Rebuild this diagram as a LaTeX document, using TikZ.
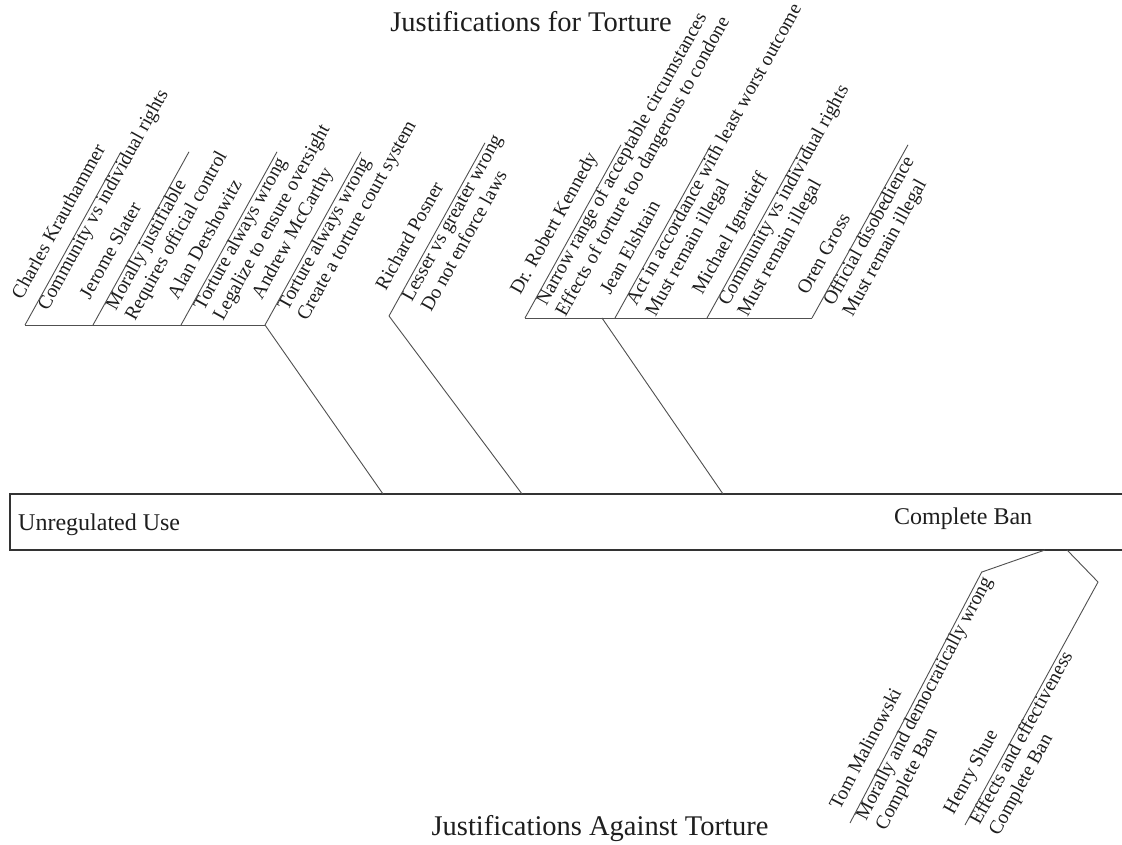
\documentclass[tikz,border=0pt]{standalone}
\usepackage{fontspec}
\setmainfont{Liberation Serif}
\definecolor{rulec}{HTML}{505050}
\definecolor{txt}{HTML}{1E1E1E}
\tikzset{
  rule/.style={draw=rulec, line width=0.9pt},
  boxline/.style={draw=black!80, line width=1.2pt},
  lbl/.style={anchor=mid west, inner sep=0pt, text=txt, font=\fontsize{19.5}{23}\selectfont},
  title/.style={anchor=base, inner sep=0pt, text=txt, font=\fontsize{28.5}{33}\selectfont},
  endlbl/.style={anchor=base west, inner sep=0pt, text=txt, font=\fontsize{24}{28}\selectfont}
}
% #1 coord name, #2 angle, #3 rule length, #4 text start, #5 name, #6 attr1, #7 attr2
\newcommand\fbranch[7]{%
  \begin{scope}[shift={(#1)}, rotate=#2, transform shape]
    \coordinate (#1-end) at (#3,0);
    \node[lbl] (#1-name) at (#4,17) {#5};
    \node[lbl] (#1-a) at (#4+3,-11) {#6};
    \if\relax\detokenize{#7}\relax\else
      \node[lbl] (#1-b) at (#4+3,-33) {#7};
    \fi
  \end{scope}
  \draw[rule] (#1) -- (#1-end);
}
\begin{document}
\begin{tikzpicture}[x=1pt,y=1pt]
\useasboundingbox (0,0) rectangle (1122,845);
\fill[white] (0,0) rectangle (1122,845);

% titles
\node[title] (ttop) at (531,813) {Justifications for Torture};
\node[title] (tbot) at (600,9) {Justifications Against Torture};

% main box
\draw[boxline] (1123,351) -- (10,351) -- (10,295) -- (1123,295);
\node[endlbl] (unreg) at (18,314) {Unregulated Use};
\node[endlbl] (ban) at (894,320) {Complete Ban};

% junction points on box
\coordinate (m1) at (383,351);
\coordinate (m2) at (522,351);
\coordinate (m3) at (723,351);
\coordinate (m4) at (1045,295);
\coordinate (m5) at (1067,295);

% group 1
\coordinate (b1) at (25,520);
\coordinate (b2) at (93,520);
\coordinate (b3) at (181,520);
\coordinate (b4) at (265,520);
\draw[rule] (b1) -- (b4);
\draw[rule] (b4) -- (m1);
\fbranch{b1}{61}{198}{20}{Charles Krauthammer}{Community vs individual rights}{}
\fbranch{b2}{61}{198}{20}{Jerome Slater}{Morally justifiable}{Requires official control}
\fbranch{b3}{61}{198}{20}{Alan Dershowitz}{Torture always wrong}{Legalize to ensure oversight}
\fbranch{b4}{61}{198}{20}{Andrew McCarthy}{Torture always wrong}{Create a torture court system}

% group 2
\coordinate (b5) at (389,529);
\draw[rule] (b5) -- (m2);
\fbranch{b5}{61}{198}{20}{Richard Posner}{Lesser vs greater wrong}{Do not enforce laws}

% group 3
\coordinate (b6) at (525,527);
\coordinate (b7) at (615,527);
\coordinate (b8) at (707,527);
\coordinate (b9) at (812,527);
\coordinate (j3) at (602,527);
\draw[rule] (b6) -- (b9);
\draw[rule] (j3) -- (m3);
\fbranch{b6}{61}{198}{17}{Dr. Robert Kennedy}{Narrow range of acceptable circumstances}{Effects of torture too dangerous to condone}
\fbranch{b7}{61}{198}{17}{Jean Elshtain}{Act in accordance with least worst outcome}{Must remain illegal}
\fbranch{b8}{61}{198}{17}{Michael Ignatieff}{Community vs individual rights}{Must remain illegal}
\fbranch{b9}{61}{198}{17}{Oren Gross}{Official disobedience}{Must remain illegal}

% bottom group
\coordinate (k1) at (982,273);
\coordinate (k2) at (1098,263);
\coordinate (c1) at (850,22);
\coordinate (c2) at (965,20);
\draw[rule] (m4) -- (k1);
\draw[rule] (m5) -- (k2);
\fbranch{c1}{62.3}{284}{6}{Tom Malinowski}{Morally and democratically wrong}{Complete Ban}
\fbranch{c2}{61.3}{277}{3}{Henry Shue}{Effects and effectiveness}{Complete Ban}
\end{tikzpicture}
\end{document}
